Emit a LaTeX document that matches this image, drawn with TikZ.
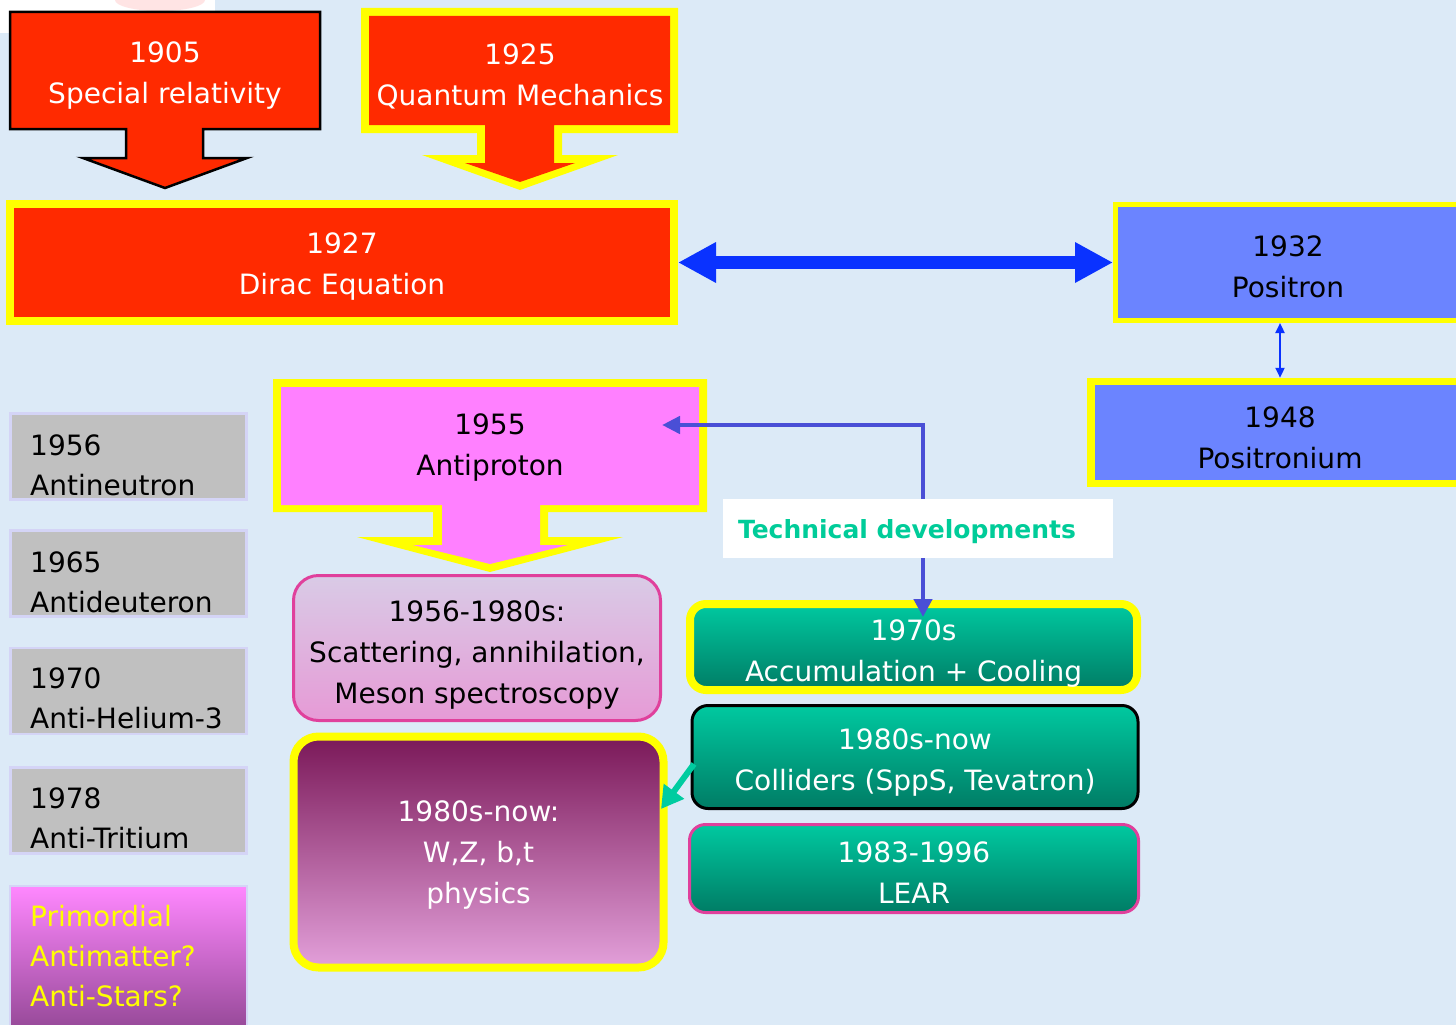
\documentclass[tikz,border=0pt]{standalone}
\usepackage{fontspec}
\setmainfont{DejaVu Sans}
\usetikzlibrary{arrows.meta,calc}
\definecolor{bg}{HTML}{DCEAF7}
\definecolor{redc}{HTML}{FF2A00}
\definecolor{yel}{HTML}{FFFF00}
\definecolor{posblue}{HTML}{6B84FF}
\definecolor{arrblue}{HTML}{0A32FF}
\definecolor{pinkap}{HTML}{FF80FF}
\definecolor{connblue}{HTML}{4A4FD6}
\definecolor{tealtop}{HTML}{00C9A0}
\definecolor{tealbot}{HTML}{007C65}
\definecolor{techgreen}{HTML}{00CC99}
\definecolor{greyb}{HTML}{C0C0C0}
\definecolor{lavb}{HTML}{D4D4F6}
\definecolor{magb}{HTML}{E0409C}
\definecolor{scattop}{HTML}{D9CBE6}
\definecolor{scatbot}{HTML}{E69AD6}
\definecolor{wztop}{HTML}{7A1858}
\definecolor{wzbot}{HTML}{E3A0DA}
\definecolor{primtop}{HTML}{FF88FF}
\definecolor{primbot}{HTML}{8E4490}
\definecolor{arrteal}{HTML}{00CCA0}
\tikzset{
  txt/.style={font=\fontsize{28}{41}\selectfont, align=center, inner sep=0pt},
  ltxt/.style={font=\fontsize{28}{40}\selectfont, align=left, inner sep=0pt, anchor=west},
  greybox/.style={draw=lavb, line width=2.5pt, fill=greyb, minimum width=236pt, minimum height=86pt, inner sep=0pt},
  tealbox/.style={top color=tealtop, bottom color=tealbot, rounded corners=16pt, inner sep=0pt},
  bluebox/.style={fill=posblue, draw=yel, inner sep=0pt},
}
\begin{document}
\begin{tikzpicture}[x=1pt,y=-1pt]
\useasboundingbox (0,0) rectangle (1456,1025);
\clip (0,0) rectangle (1456,1025);
\fill[bg] (0,0) rectangle (1456,1025);
\fill[white] (0,0) rectangle (215,33);
\fill[pink!70, opacity=0.6] (160,0) ellipse (45pt and 11pt);

% 1905 callout
\filldraw[fill=redc, draw=black, line width=2.5pt] (10,12) -- (320,12) -- (320,129) -- (203,129) -- (203,158) -- (247,158) -- (165,188) -- (83,158) -- (126,158) -- (126,129) -- (10,129) -- cycle;
\node[txt, text=white] (sr) at (165,76) {1905\\Special relativity};

% 1925 callout
\fill[yel] (361,8) -- (678,8) -- (678,133) -- (562,133) -- (562,155) -- (618,155) -- (520,190) -- (422,155) -- (477,155) -- (477,133) -- (361,133) -- cycle;
\fill[redc] (369,16) -- (670,16) -- (670,125) -- (554,125) -- (554,163) -- (575,163) -- (520,182) -- (465,163) -- (485,163) -- (485,125) -- (369,125) -- cycle;
\node[txt, text=white] (qm) at (520,76) {1925\\Quantum Mechanics};

% Dirac
\node[draw=yel, line width=8pt, fill=redc, minimum width=664pt, minimum height=117pt, inner sep=0pt] (dirac) at (342,262.5) {};
\node[txt, text=white] (dirt) at (342,266.5) {1927\\Dirac Equation};

% Positron / Positronium
\node[bluebox, line width=5pt, minimum width=345pt, minimum height=116pt, anchor=west] (positron) at (1113,262.5) {};
\node[txt] (post) at (1288,266.5) {1932\\Positron};
\node[bluebox, line width=7.5pt, minimum width=378pt, minimum height=102pt, anchor=west] (positronium) at (1087.25,432.5) {};
\node[txt] (psnt) at (1280,437.5) {1948\\Positronium};

\draw[arrblue, line width=13pt, {Triangle[length=38pt,width=38pt]}-{Triangle[length=38pt,width=38pt]}] (dirac.east) -- (dirac.east -| positron.west);
\draw[arrblue, line width=2.2pt, {Triangle[length=10pt,width=9pt]}-{Triangle[length=10pt,width=9pt]}] ([xshift=-8pt]positron.south) -- ([xshift=-8pt]positron.south |- positronium.north);

% Antiproton callout
\fill[yel] (273,379) -- (707,379) -- (707,512) -- (548,512) -- (548,537) -- (623,537) -- (490,572) -- (357,537) -- (433,537) -- (433,512) -- (273,512) -- cycle;
\fill[pinkap] (281,387) -- (699,387) -- (699,505) -- (540,505) -- (540,545) -- (568,545) -- (490,564) -- (413,545) -- (442,545) -- (442,505) -- (281,505) -- cycle;
\node[txt] (ap) at (490,448) {1955\\Antiproton};

% Grey boxes
\node[greybox] (g1) at (128.5,456.5) {};
\node[ltxt] (g1t) at (30,465) {1956\\Antineutron};
\node[greybox] (g2) at (128.5,573.5) {};
\node[ltxt] (g2t) at (30,582) {1965\\Antideuteron};
\node[greybox] (g3) at (128.5,691) {};
\node[ltxt] (g3t) at (30,698) {1970\\Anti-Helium-3};
\node[greybox] (g4) at (128.5,810.5) {};
\node[ltxt] (g4t) at (30,818) {1978\\Anti-Tritium};
\filldraw[draw=lavb, line width=2.5pt, top color=primtop, bottom color=primbot] (10,886) rectangle (247,1040);
\node[ltxt, text=yel] (prim) at (30,956) {Primordial\\Antimatter?\\Anti-Stars?};

% Scattering box
\node[draw=magb, line width=3pt, rounded corners=25pt, top color=scattop, bottom color=scatbot,
  minimum width=367pt, minimum height=145pt, inner sep=0pt] (scat) at (477,648) {};
\node[txt] (scatt) at (477,655) {1956-1980s:\\Scattering, annihilation,\\Meson spectroscopy};

% W,Z box
\node[draw=yel, line width=8pt, rounded corners=25pt, top color=wztop, bottom color=wzbot,
  minimum width=370pt, minimum height=231pt, inner sep=0pt] (wz) at (478.5,852) {};
\node[txt, text=white] (wzt) at (478.5,855) {1980s-now:\\W,Z, b,t\\physics};

% Teal boxes
\node[tealbox, draw=yel, line width=8pt, minimum width=447pt, minimum height=86pt] (acc) at (913.5,647) {};
\node[txt, text=white] (acct) at (913.5,654) {1970s\\Accumulation + Cooling};
\node[tealbox, draw=black, line width=3pt, minimum width=446pt, minimum height=103pt] (col) at (915,757) {};
\node[txt, text=white] (colt) at (915,763) {1980s-now\\Colliders (SppS, Tevatron)};
\node[tealbox, draw=magb, line width=3pt, minimum width=449pt, minimum height=88pt] (lear) at (914,868.5) {};
\node[txt, text=white] (leart) at (914,872.5) {1983-1996\\LEAR};

% Technical connector
\coordinate (tdL) at (662,425);
\coordinate (tdB) at (923,617);
\draw[connblue, line width=4.5pt, {Triangle[length=18pt,width=18pt]}-{Triangle[length=18pt,width=17pt]}] (tdB) |- (tdL);
\node[fill=white, minimum width=390pt, minimum height=59pt, inner sep=0pt] (techbox) at (918,528.5) {};
\node[font=\bfseries\fontsize{25}{30}\selectfont, text=techgreen, inner sep=0pt] (tech) at (907,532) {Technical developments};

% Teal arrow
\coordinate (tA) at (694,764);
\coordinate (tB) at (661,809);
\draw[arrteal, line width=6pt, -{Triangle[length=22pt,width=24pt]}] (tA) -- (tB);
\end{tikzpicture}
\end{document}
